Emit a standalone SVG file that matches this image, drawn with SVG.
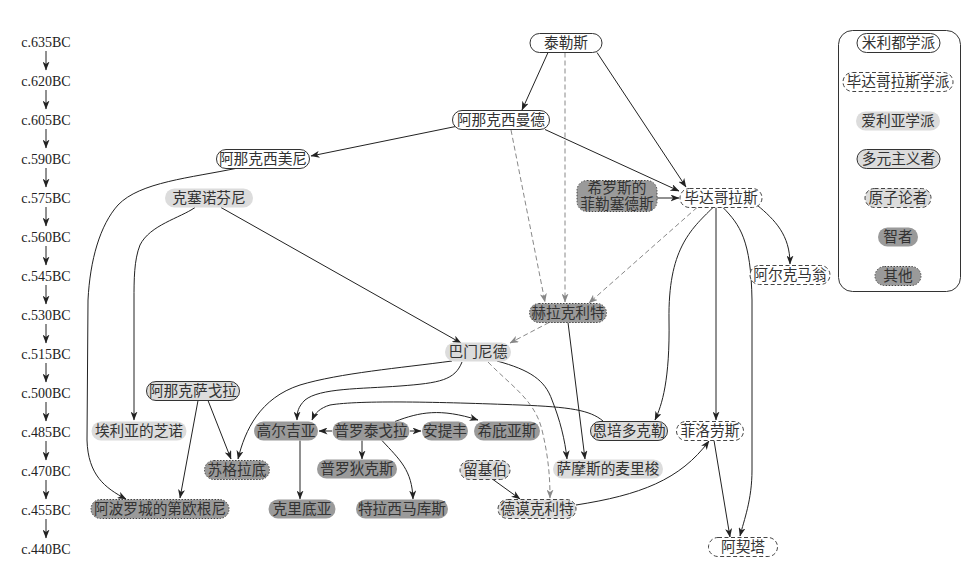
<svg xmlns="http://www.w3.org/2000/svg" width="972" height="564" viewBox="0 0 972 564">
<defs>
<marker id="ah" markerUnits="userSpaceOnUse" markerWidth="9" markerHeight="7" refX="8.5" refY="3.5" orient="auto"><path d="M0,0 L9,3.5 L0,7 L2.5,3.5 z" fill="#222"/></marker>
<marker id="ahg" markerUnits="userSpaceOnUse" markerWidth="9" markerHeight="7" refX="8.5" refY="3.5" orient="auto"><path d="M0,0 L9,3.5 L0,7 L2.5,3.5 z" fill="#888"/></marker>
</defs>
<style>
text{font-family:"Liberation Serif","Noto Sans CJK SC",serif;font-size:14.7px;fill:#333;text-anchor:middle}
.t{font-size:14px;fill:#222}
.mil{fill:#fff;stroke:#333;stroke-width:1}
.pyt{fill:#fff;stroke:#444;stroke-width:1;stroke-dasharray:4 2.5}
.ele{fill:#dcdcdc;stroke:none}
.plu{fill:#dcdcdc;stroke:#333;stroke-width:1}
.ato{fill:#dcdcdc;stroke:#444;stroke-width:1;stroke-dasharray:4 2.5}
.sop{fill:#9a9a9a;stroke:none}
.oth{fill:#9a9a9a;stroke:#444;stroke-width:1;stroke-dasharray:1.5 1.5}
.e{fill:none;stroke:#222;stroke-width:1;marker-end:url(#ah)}
.d{fill:none;stroke:#888;stroke-width:1;stroke-dasharray:5 3;marker-end:url(#ahg)}
</style>
<rect width="972" height="564" fill="#fff"/>
<g id="timeline">
<text class="t" x="46" y="47">c.635BC</text>
<text class="t" x="46" y="86">c.620BC</text>
<text class="t" x="46" y="125">c.605BC</text>
<text class="t" x="46" y="164">c.590BC</text>
<text class="t" x="46" y="203">c.575BC</text>
<text class="t" x="46" y="242">c.560BC</text>
<text class="t" x="46" y="281">c.545BC</text>
<text class="t" x="46" y="320">c.530BC</text>
<text class="t" x="46" y="359">c.515BC</text>
<text class="t" x="46" y="398">c.500BC</text>
<text class="t" x="46" y="437">c.485BC</text>
<text class="t" x="46" y="476">c.470BC</text>
<text class="t" x="46" y="515">c.455BC</text>
<text class="t" x="46" y="554">c.440BC</text>
<path class="e" d="M46,51 V70"/><path class="e" d="M46,90 V109"/><path class="e" d="M46,129 V148"/><path class="e" d="M46,168 V187"/><path class="e" d="M46,207 V226"/><path class="e" d="M46,246 V265"/><path class="e" d="M46,285 V304"/><path class="e" d="M46,324 V343"/><path class="e" d="M46,363 V382"/><path class="e" d="M46,402 V421"/><path class="e" d="M46,441 V460"/><path class="e" d="M46,480 V499"/><path class="e" d="M46,519 V538"/>
</g>
<g id="connectors">
<path class="e" d="M548,52.5 L522,110"/>
<path class="e" d="M597,52.5 L686,187"/>
<path class="d" d="M565,52.5 L565,302"/>
<path class="e" d="M458,126 L311,156"/>
<path class="e" d="M545,129.5 L679,191"/>
<path class="d" d="M511,130 L545,302"/>
<path class="e" d="M657,198 L679,198"/>
<path class="d" d="M697,207.5 L589,303"/>
<path class="e" d="M713,207.5 C690,230 668,250 669,320 C670,380 662,405 655,420"/>
<path class="e" d="M716,207.5 L716,420"/>
<path class="e" d="M723,207.5 C740,225 751,240 752,300 L752,470 C752,500 744,520 740,536"/>
<path class="e" d="M757,205 C775,220 790,235 790,264"/>
<path class="e" d="M238,168 C190,178 140,182 118,205 C100,225 90,260 88,300 L87,440 C88,475 105,488 126,499"/>
<path class="e" d="M195,207.5 C180,218 150,225 140,245 C134,260 134,280 134,300 L134,420"/>
<path class="e" d="M221,207.5 L461,343"/>
<path class="d" d="M549,322.5 L510,343"/>
<path class="e" d="M568,322.5 L585,459"/>
<path class="e" d="M452,361 C400,368 340,373 300,385 C260,398 245,430 238,459"/>
<path class="e" d="M462,362 C455,380 440,383 400,386 C360,389 320,388 305,400 C298,407 297,412 297,420"/>
<path class="e" d="M603,421 C590,410 570,407 520,405 C440,402 360,400 330,405 C320,408 315,413 312,420"/>
<path class="e" d="M497,361 C530,370 545,380 552,400 C560,420 565,440 567,459"/>
<path class="d" d="M488,362 C510,385 535,400 542,430 C548,455 550,475 550,498"/>
<path class="e" d="M208,400.5 L231,459"/>
<path class="e" d="M198,400.5 L180,498"/>
<path class="e" d="M332,431 L319,431"/>
<path class="e" d="M410,431 L421,431"/>
<path class="e" d="M395,421.5 C420,412 440,408 478,420"/>
<path class="e" d="M362,440.5 L362,459"/>
<path class="e" d="M382,440.5 C400,460 412,470 413,499"/>
<path class="e" d="M300,440.5 L300,499"/>
<path class="e" d="M493,479.5 L520,499"/>
<path class="e" d="M576,505 C640,495 680,480 709,441"/>
<path class="e" d="M714,440.5 L730,537"/>
</g>
<g id="n-thales"><rect class="mil" x="530" y="33.5" width="72" height="19" rx="9.5"/><text x="566" y="48">泰勒斯</text></g>
<g id="n-anaximander"><rect class="mil" x="452.5" y="110.5" width="97" height="19" rx="9.5"/><text x="501" y="125">阿那克西曼德</text></g>
<g id="n-anaximenes"><rect class="mil" x="216.5" y="149.5" width="93" height="19" rx="9.5"/><text x="263" y="164">阿那克西美尼</text></g>
<g id="n-xenophanes"><rect class="ele" x="165" y="188.5" width="88" height="19" rx="9.5"/><text x="209" y="203">克塞诺芬尼</text></g>
<g id="n-pherecydes"><rect class="oth" x="577" y="180.5" width="80" height="31" rx="10"/><text x="617" y="193">希罗斯的</text><text x="617" y="209">菲勒塞德斯</text></g>
<g id="n-pythagoras"><rect class="pyt" x="680" y="188.5" width="82" height="19" rx="9.5"/><text x="721" y="203">毕达哥拉斯</text></g>
<g id="n-alcmaeon"><rect class="pyt" x="750" y="265.5" width="80" height="19" rx="9.5"/><text x="790" y="280">阿尔克马翁</text></g>
<g id="n-heraclitus"><rect class="oth" x="529.5" y="303.5" width="77" height="19" rx="9.5"/><text x="568" y="318">赫拉克利特</text></g>
<g id="n-parmenides"><rect class="ele" x="445" y="342.5" width="66" height="19" rx="9.5"/><text x="478" y="357">巴门尼德</text></g>
<g id="n-anaxagoras"><rect class="plu" x="146.5" y="381.5" width="93" height="19" rx="9.5"/><text x="193" y="396">阿那克萨戈拉</text></g>
<g id="n-zeno"><rect class="ele" x="91.5" y="421.5" width="95" height="19" rx="9.5"/><text x="139" y="436">埃利亚的芝诺</text></g>
<g id="n-gorgias"><rect class="sop" x="254" y="421.5" width="64" height="19" rx="9.5"/><text x="286" y="436">高尔吉亚</text></g>
<g id="n-protagoras"><rect class="sop" x="332.5" y="421.5" width="77" height="19" rx="9.5"/><text x="371" y="436">普罗泰戈拉</text></g>
<g id="n-antiphon"><rect class="sop" x="422" y="421.5" width="46" height="19" rx="9.5"/><text x="445" y="436">安提丰</text></g>
<g id="n-hippias"><rect class="sop" x="474" y="421.5" width="66" height="19" rx="9.5"/><text x="507" y="436">希庇亚斯</text></g>
<g id="n-empedocles"><rect class="plu" x="590.5" y="421.5" width="77" height="19" rx="9.5"/><text x="629" y="436">恩培多克勒</text></g>
<g id="n-philolaus"><rect class="pyt" x="676.5" y="421.5" width="67" height="19" rx="9.5"/><text x="710" y="436">菲洛劳斯</text></g>
<g id="n-socrates"><rect class="oth" x="204.5" y="460.5" width="65" height="19" rx="9.5"/><text x="237" y="475">苏格拉底</text></g>
<g id="n-prodicus"><rect class="sop" x="317" y="459.5" width="80" height="19" rx="9.5"/><text x="357" y="474">普罗狄克斯</text></g>
<g id="n-leucippus"><rect class="ato" x="460" y="460.5" width="50" height="19" rx="9.5"/><text x="485" y="475">留基伯</text></g>
<g id="n-melissus"><rect class="ele" x="553" y="459.5" width="110" height="19" rx="9.5"/><text x="608" y="474">萨摩斯的麦里梭</text></g>
<g id="n-diogenes"><rect class="oth" x="91" y="499.5" width="138" height="19" rx="9.5"/><text x="160" y="514">阿波罗城的第欧根尼</text></g>
<g id="n-critias"><rect class="sop" x="268.5" y="499.5" width="67" height="19" rx="9.5"/><text x="302" y="514">克里底亚</text></g>
<g id="n-thrasymachus"><rect class="sop" x="356" y="499.5" width="92" height="19" rx="9.5"/><text x="402" y="514">特拉西马库斯</text></g>
<g id="n-democritus"><rect class="ato" x="498" y="499.5" width="78" height="19" rx="9.5"/><text x="537" y="514">德谟克利特</text></g>
<g id="n-archytas"><rect class="pyt" x="708.5" y="537.5" width="69" height="19" rx="9.5"/><text x="743" y="552">阿契塔</text></g>
<g id="legend">
<rect x="838.5" y="30.5" width="122" height="261" rx="14" fill="#fff" stroke="#333" stroke-width="1"/>
<rect class="mil" x="857" y="33.5" width="83" height="19" rx="9.5"/><text x="898.5" y="48">米利都学派</text>
<rect class="pyt" x="843" y="72.5" width="110" height="19" rx="9.5"/><text x="898" y="87">毕达哥拉斯学派</text>
<rect class="ele" x="856" y="111.5" width="84" height="19" rx="9.5"/><text x="898" y="126">爱利亚学派</text>
<rect class="plu" x="857" y="149.5" width="83" height="19" rx="9.5"/><text x="898.5" y="164">多元主义者</text>
<rect class="ato" x="865" y="188.5" width="66" height="19" rx="9.5"/><text x="898" y="203">原子论者</text>
<rect class="sop" x="878" y="227.5" width="40" height="19" rx="9.5"/><text x="898" y="242">智者</text>
<rect class="oth" x="875" y="266.5" width="46" height="19" rx="9.5"/><text x="898" y="281">其他</text>
</g>
</svg>
